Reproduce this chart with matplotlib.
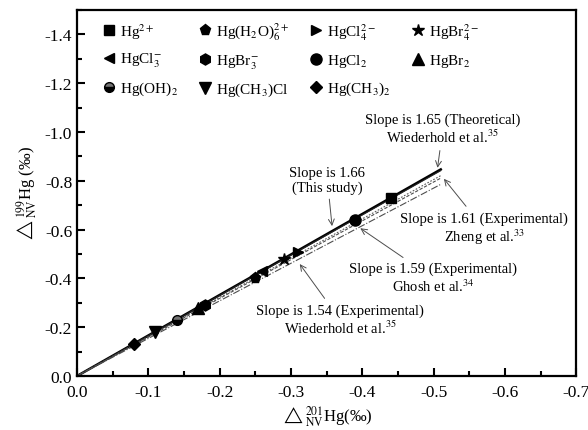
import matplotlib
matplotlib.use("Agg")
import matplotlib.pyplot as plt
from matplotlib.ticker import MultipleLocator, FormatStrFormatter

plt.rcParams['font.family'] = ['Liberation Serif', 'DejaVu Serif']
plt.rcParams['mathtext.fontset'] = 'stix'

# species data
species = ['Hg$^{2+}$', 'Hg(H$_2$O)$_6^{2+}$', 'HgCl$_4^{2-}$', 'HgBr$_4^{2-}$',
           'HgCl$_3^{-}$', 'HgBr$_3^{-}$', 'HgCl$_2$', 'HgBr$_2$',
           'Hg(OH)$_2$', 'Hg(CH$_3$)Cl', 'Hg(CH$_3$)$_2$']
x_vals = [-0.44, -0.25, -0.31, -0.29, -0.26, -0.18, -0.39, -0.17, -0.14, -0.11, -0.08]
y_vals = [-0.73, -0.40, -0.51, -0.48, -0.43, -0.29, -0.64, -0.28, -0.23, -0.18, -0.13]
markers = ['s', 'p', '>', '*', '<', 'h', 'o', '^', 'o', 'v', 'D']
msizes = [7, 8, 7, 9, 7, 8, 8, 8, 7, 8, 6]

# fitted / reference slopes
slopes = [1.66, 1.65, 1.61, 1.59, 1.54]
line_x_end = -0.51

fig = plt.figure(figsize=(5.88, 4.31), dpi=100)
ax = fig.add_axes([0.131, 0.1253, 0.849, 0.8492])

line_styles = [dict(color='black', lw=1.8, ls='-'),
               dict(color='0.15', lw=0.8, ls='-'),
               dict(color='0.35', lw=0.8, ls=(0, (1.5, 1.5))),
               dict(color='0.3', lw=0.8, ls=(0, (3, 1.5))),
               dict(color='0.3', lw=0.8, ls='-.')]
for s, st in zip(slopes, line_styles):
    ax.plot([0, line_x_end], [0, s * line_x_end], zorder=2, **st)

handles = {}
for name, xv, yv, m, ms in zip(species, x_vals, y_vals, markers, msizes):
    if name.startswith('Hg(OH)'):
        h, = ax.plot([xv], [yv], ls='none', marker=m, ms=ms, color='black',
                     markerfacecolor='black', fillstyle='bottom',
                     markerfacecoloralt='0.45', zorder=3)
    else:
        h, = ax.plot([xv], [yv], ls='none', marker=m, ms=ms, color='black', zorder=3)
    handles[name] = h

# legend: column-major order to reproduce row layout
order = [0, 4, 8, 1, 5, 9, 2, 6, 10, 3, 7]
leg = ax.legend([handles[species[i]] for i in order], [species[i] for i in order],
                ncol=4, frameon=False, loc='upper left', bbox_to_anchor=(0.03, 1.0),
                fontsize=11, handlelength=0.8, handletextpad=0.3,
                columnspacing=1.4, labelspacing=0.68, borderaxespad=0.3)

ax.set_xlim(0, -0.7)
ax.set_ylim(0, -1.5)
ax.xaxis.set_major_locator(MultipleLocator(0.1))
ax.xaxis.set_minor_locator(MultipleLocator(0.05))
ax.yaxis.set_major_locator(MultipleLocator(0.2))
ax.yaxis.set_minor_locator(MultipleLocator(0.1))
ax.xaxis.set_major_formatter(FormatStrFormatter('%.1f'))
ax.yaxis.set_major_formatter(FormatStrFormatter('%.1f'))
ax.tick_params(which='both', direction='in', width=1.5, labelsize=12.5)
ax.tick_params(which='major', length=6)
ax.tick_params(which='minor', length=3.5)
ax.tick_params(axis='x', pad=6)
for sp in ax.spines.values():
    sp.set_linewidth(1.6)

ax.set_xlabel('$\\triangle_{\\rm NV}^{201}$Hg(‰)', fontsize=12, labelpad=2)
ax.set_ylabel('$\\triangle_{\\rm NV}^{199}$Hg (‰)', fontsize=12, labelpad=4)

arrow = dict(arrowstyle='->', color='0.3', lw=0.7)
fs = 10.5
ax.annotate('Slope is 1.65 (Theoretical)\nWiederhold et al.$^{35}$',
            xy=(-0.505, -0.842), xytext=(-0.513, -1.014), ha='center', va='center',
            fontsize=fs, arrowprops=arrow, linespacing=1.15)
ax.annotate('Slope is 1.66\n(This study)',
            xy=(-0.358, -0.603), xytext=(-0.351, -0.805), ha='center', va='center',
            fontsize=fs, arrowprops=arrow, linespacing=1.15)
ax.annotate('Slope is 1.61 (Experimental)\nZheng et al.$^{33}$',
            xy=(-0.512, -0.817), xytext=(-0.571, -0.603), ha='center', va='center',
            fontsize=fs, arrowprops=arrow, linespacing=1.15)
ax.annotate('Slope is 1.59 (Experimental)\nGhosh et al.$^{34}$',
            xy=(-0.394, -0.612), xytext=(-0.499, -0.402), ha='center', va='center',
            fontsize=fs, arrowprops=arrow, linespacing=1.15)
ax.annotate('Slope is 1.54 (Experimental)\nWiederhold et al.$^{35}$',
            xy=(-0.31, -0.468), xytext=(-0.369, -0.23), ha='center', va='center',
            fontsize=fs, arrowprops=arrow, linespacing=1.15)

fig.savefig('out.png', dpi=100)
